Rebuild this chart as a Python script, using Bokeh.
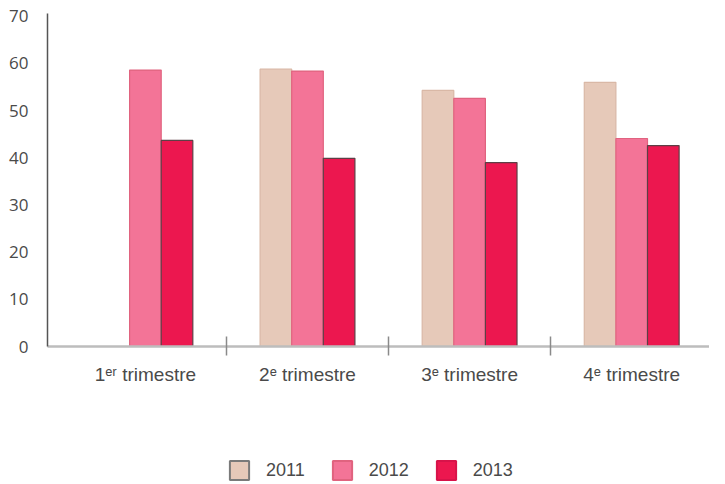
from bokeh.plotting import figure
from bokeh.models import (Range1d, FixedTicker, LinearAxis, Legend, LegendItem,
                          ColumnDataSource)
from bokeh.layouts import column
from bokeh.transform import dodge
from bokeh.embed import file_html
from bokeh.resources import INLINE

# ---- data ----
quarters = ["1\u1d49\u02b3 trimestre", "2\u1d49 trimestre", "3\u1d49 trimestre", "4\u1d49 trimestre"]
years = ["2011", "2012", "2013"]
v2011 = [float("nan"), 58.8, 54.3, 56.0]
v2012 = [58.6, 58.4, 52.6, 44.1]
v2013 = [43.7, 39.9, 39.0, 42.6]
y_ticks = [0, 10, 20, 30, 40, 50, 60, 70]

fills = ["#E6C9B9", "#F37497", "#EC174F"]
lines = ["#D9B8A6", "#E0637F", "#5E3F46"]
legend_lines = ["#7A7A7A", "#E0637F", "#D8134A"]

centers = [i + 0.5 for i in range(len(quarters))]
bounds = [i for i in range(1, len(quarters))]

src = ColumnDataSource(data=dict(x=centers, y2011=v2011, y2012=v2012, y2013=v2013))
xr = Range1d(-0.104, 3.98)

p = figure(width=709, height=430, output_backend="svg", toolbar_location=None,
           x_range=xr, y_range=Range1d(0, 70.6),
           min_border_left=47, min_border_top=13, min_border_right=0,
           min_border_bottom=84)
p.outline_line_color = None
p.xgrid.visible = False
p.ygrid.visible = False

bw = 0.195
offsets = [-bw, 0.0, bw]
for yr, off, fc, lc in zip(years, offsets, fills, lines):
    p.vbar(x=dodge("x", off), top="y" + yr, width=bw, bottom=0, source=src,
           fill_color=fc, line_color=lc, line_width=1.2)

# y axis
ya = p.yaxis[0]
ya.ticker = FixedTicker(ticks=y_ticks)
ya.axis_line_color = "#555555"
ya.axis_line_width = 1.5
ya.major_tick_line_color = None
ya.minor_tick_line_color = None
ya.major_label_text_font = "Open Sans"
ya.major_label_text_font_size = "17px"
ya.major_label_text_color = "#4a4a4a"
ya.major_label_standoff = 13

# x axis with separators at category boundaries
xa = p.xaxis[0]
xa.ticker = FixedTicker(ticks=bounds)
xa.major_label_overrides = {b: "" for b in bounds}
xa.major_label_text_font_size = "1px"
xa.major_label_standoff = 0
xa.axis_line_color = "#BDBDBD"
xa.axis_line_width = 2.5
xa.major_tick_line_color = "#8a8a8a"
xa.major_tick_line_width = 1.5
xa.major_tick_in = 10
xa.major_tick_out = 9
xa.minor_tick_line_color = None

# second x axis for category labels
xa2 = LinearAxis(ticker=FixedTicker(ticks=centers),
                 major_label_overrides={c: q for c, q in zip(centers, quarters)})
xa2.axis_line_color = None
xa2.major_tick_line_color = None
xa2.minor_tick_line_color = None
xa2.major_label_standoff = 2
xa2.major_label_text_font = "Liberation Sans"
xa2.major_label_text_font_size = "19px"
xa2.major_label_text_color = "#4a4a4a"
p.add_layout(xa2, "below")

# ---- legend strip (same data; its bars are muted to invisible, legend keeps styles) ----
lg = figure(width=709, height=54, output_backend="svg", toolbar_location=None,
            x_range=xr, y_range=Range1d(0, 70.6),
            min_border_left=0, min_border_top=0, min_border_right=0, min_border_bottom=0)
lg.outline_line_color = None
lg.axis.visible = False
lg.grid.visible = False
lrs = []
for yr, off, fc, lc in zip(years, offsets, fills, legend_lines):
    r = lg.vbar(x=dodge("x", off), top="y" + yr, width=bw, bottom=0, source=src,
                fill_color=fc, line_color=lc, line_width=2,
                muted_fill_alpha=0, muted_line_alpha=0)
    r.muted = True
    lrs.append(r)

legend = Legend(items=[LegendItem(label=y, renderers=[r]) for y, r in zip(years, lrs)],
                orientation="horizontal", location=(180, 2),
                glyph_width=24, glyph_height=24, label_standoff=15, spacing=25,
                padding=0, margin=0, border_line_color=None,
                background_fill_alpha=0, click_policy="none",
                label_text_font="Liberation Sans", label_text_font_size="18px",
                label_text_color="#4a4a4a")
lg.add_layout(legend, "center")

layout = column(p, lg, spacing=0)
open("out.html", "w").write(file_html(layout, INLINE))
